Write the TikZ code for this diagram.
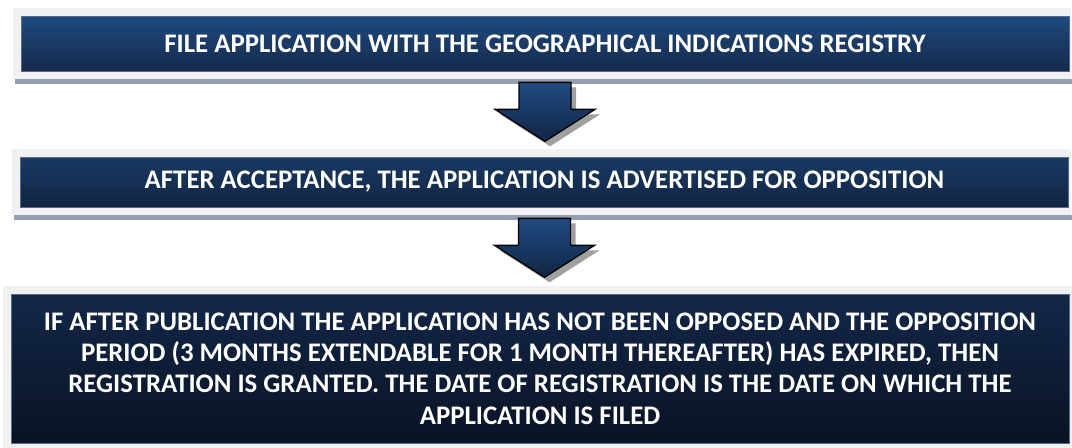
\documentclass[tikz,border=0pt]{standalone}
\usepackage{fontspec}
\setmainfont{Carlito}
\usepackage{tikz}
\usetikzlibrary{calc}
\usetikzlibrary{positioning,backgrounds}

\definecolor{frameGray}{RGB}{241,241,241}
\definecolor{shadowBlue}{RGB}{146,160,178}
\definecolor{edgeBlue}{RGB}{84,108,142}
\definecolor{stepTopA}{RGB}{31,74,126}
\definecolor{stepBotA}{RGB}{21,42,76}
\definecolor{stepTopB}{RGB}{25,57,99}
\definecolor{stepBotB}{RGB}{18,37,67}
\definecolor{stepTopC}{RGB}{18,39,72}
\definecolor{stepBotC}{RGB}{10,19,36}
\definecolor{arrowTop}{RGB}{32,75,128}
\definecolor{arrowBot}{RGB}{16,38,70}
\definecolor{arrowShade}{RGB}{160,160,160}

\tikzset{
  stepbox/.style={draw=edgeBlue,line width=0.5pt,inner sep=0pt,
    minimum width=786pt,text=white,align=center,
    font=\fontsize{20.1}{23.4}\selectfont\bfseries},
  arrowblock/.style={draw=black,line width=1pt,line join=miter,
    top color=arrowTop,bottom color=arrowBot},
  arrowshadow/.style={fill=arrowShade}
}

\begin{document}
\begin{tikzpicture}[x=0.75pt,y=-0.75pt]
		\useasboundingbox (0,0) rectangle (1072,447);
		\node[stepbox,minimum height=41.25pt,top color=stepTopA,bottom color=stepBotA] (box1) at (545,43.5)
			{FILE APPLICATION WITH THE GEOGRAPHICAL INDICATIONS REGISTRY};
		\node[stepbox,minimum height=37.5pt,top color=stepTopB,bottom color=stepBotB] (box2) at (544.5,182)
			{AFTER ACCEPTANCE, THE APPLICATION IS ADVERTISED FOR OPPOSITION};
		\node[stepbox,minimum width=793.5pt,minimum height=111.75pt,top color=stepTopC,bottom color=stepBotC] (box3) at (540,368.5)
			{IF AFTER PUBLICATION THE APPLICATION HAS NOT BEEN OPPOSED AND THE OPPOSITION\\
			PERIOD (3 MONTHS EXTENDABLE FOR 1 MONTH THEREAFTER) HAS EXPIRED, THEN\\
			REGISTRATION IS GRANTED. THE DATE OF REGISTRATION IS THE DATE ON WHICH THE\\
			APPLICATION IS FILED};
		\begin{scope}[on background layer]
			\foreach \b in {box1,box2} {
				\fill[shadowBlue] ($(\b.south west)+(-6,8)$) rectangle ($(\b.south east)+(4,13)$);
				\fill[frameGray] ($(\b.north west)+(-8,-8)$) rectangle ($(\b.south east)+(2,8)$);
			}
			\fill[frameGray] ($(box3.north west)+(-8,-8)$) rectangle ($(box3.south east)+(3,6)$);
		\end{scope}
		\foreach \b in {box1,box2} {
			\begin{scope}[shift={(\b.south)}]
				\fill[arrowshadow] (-21,16) -- (31,16) -- (31,43) -- (55,43) -- (5,75) -- (-45,43) -- (-21,43) -- cycle;
				\draw[arrowblock] (-26,11) -- (26,11) -- (26,38) -- (50,38) -- (0,70) -- (-50,38) -- (-26,38) -- cycle;
			\end{scope}
		}
	\end{tikzpicture}
\end{document}
